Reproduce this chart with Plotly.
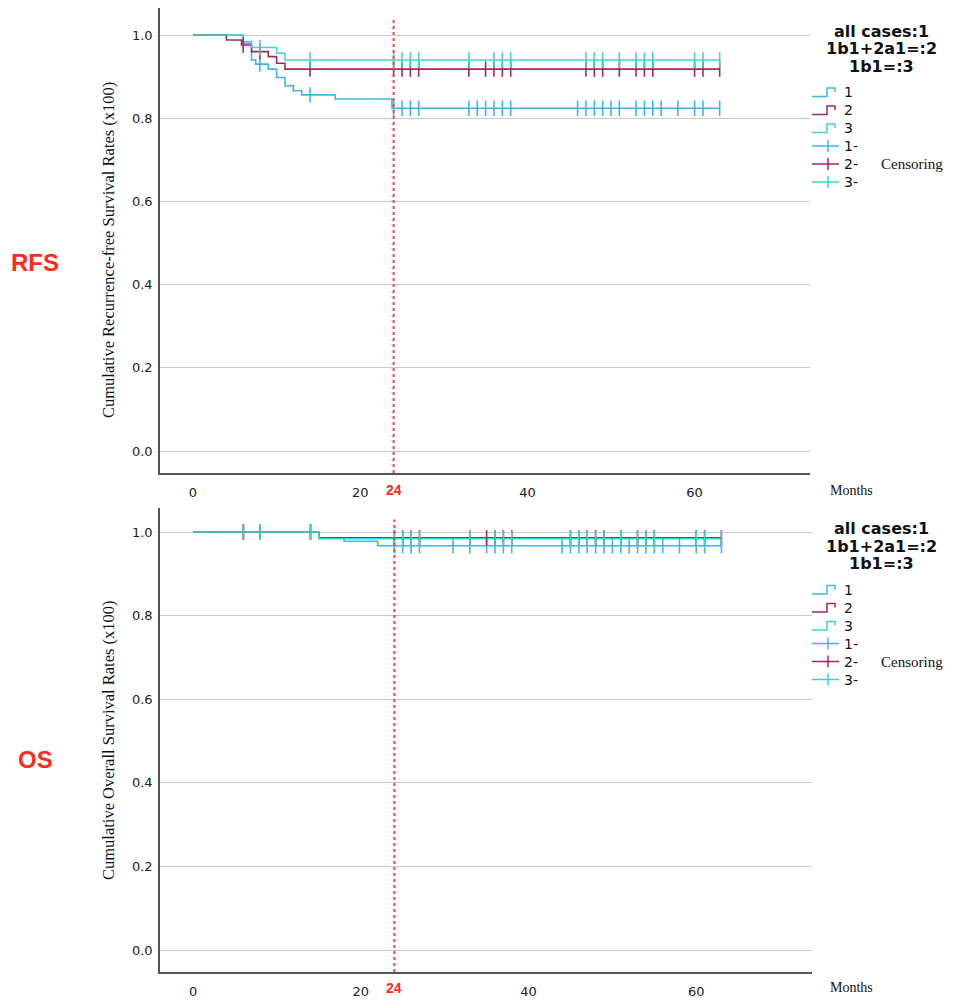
import plotly.graph_objects as go

# ---------------- data (months, survival) ----------------
groups = ["1", "2", "3"]
colors = ["#3DB5F5", "#A32A5C", "#3FD3CD"]

# RFS
rfs1_event_t = [6, 7, 7.5, 9, 10, 11, 12, 13, 17, 23.8]
rfs1_event_s = [0.980, 0.940, 0.930, 0.918, 0.898, 0.878, 0.866, 0.856, 0.846, 0.824]
rfs1_cens_t = [8, 14, 24, 25, 26, 27, 33, 34, 35, 36, 37, 38, 46, 47, 48, 49, 50, 51,
               53, 54, 55, 56, 58, 60, 61, 63]

rfs2_event_t = [4, 5.8, 7, 9, 10, 11]
rfs2_event_s = [0.988, 0.976, 0.960, 0.948, 0.932, 0.918]
rfs2_cens_t = [6, 8, 14, 24, 25, 26, 27, 33, 35, 36, 37, 38, 47, 48, 49, 51, 53, 54, 55,
               60, 61, 63]

rfs3_event_t = [6, 7, 10, 11]
rfs3_event_s = [0.984, 0.970, 0.956, 0.940]
rfs3_cens_t = [8, 14, 24, 25, 26, 27, 33, 36, 37, 38, 47, 48, 49, 51, 53, 54, 55, 60, 61, 63]

# OS
os1_event_t = [15, 18, 22]
os1_event_s = [0.986, 0.978, 0.967]
os1_cens_t = [6, 8, 14, 24, 25, 26, 27, 31, 33, 35, 36, 37, 38, 44, 45, 46, 47, 48, 49, 50,
              51, 52, 53, 54, 55, 56, 58, 60, 61, 63]

os2_event_t = [15]
os2_event_s = [0.986]
os2_cens_t = [6, 8, 14, 24, 25, 26, 27, 33, 35, 36, 37, 38, 45, 46, 47, 48, 49, 51, 53, 54,
              55, 60, 61, 63]

os3_event_t = [15]
os3_event_s = [0.984]
os3_cens_t = [6, 8, 14, 24, 25, 26, 27, 33, 36, 37, 38, 45, 46, 47, 48, 49, 51, 53, 54, 55,
              60, 61, 63]

follow_end = 63
cutoff_month = 24
x_ticks = [0, 20, 40, 60]
y_ticks = [0.0, 0.2, 0.4, 0.6, 0.8, 1.0]
y_ticktext = ["0.0", "0.2", "0.4", "0.6", "0.8", "1.0"]

legend_title = ["all cases:1", "1b1+2a1=:2", "1b1=:3"]
legend_labels = ["1", "2", "3", "1-", "2-", "3-"]

# ---------------- helpers ----------------
W, H = 953, 1000


def px(x):
    return x / W


def py(y):
    return 1 - y / H


def surv_at(t, ev_t, ev_s):
    s = 1.0
    for et, es in zip(ev_t, ev_s):
        if et <= t:
            s = es
    return s


fig = go.Figure()

panels = [
    ("x", "y", [(rfs1_event_t, rfs1_event_s, rfs1_cens_t),
                (rfs2_event_t, rfs2_event_s, rfs2_cens_t),
                (rfs3_event_t, rfs3_event_s, rfs3_cens_t)]),
    ("x2", "y2", [(os1_event_t, os1_event_s, os1_cens_t),
                  (os2_event_t, os2_event_s, os2_cens_t),
                  (os3_event_t, os3_event_s, os3_cens_t)]),
]

for xa, ya, series in panels:
    for gi, (et, es, ct) in enumerate(series):
        xs = [0] + list(et) + [follow_end]
        ys = [1.0] + list(es) + [es[-1]]
        fig.add_trace(go.Scatter(x=xs, y=ys, mode="lines", line=dict(color=colors[gi], width=1.6, shape="hv"),
                                 xaxis=xa, yaxis=ya, showlegend=False, hoverinfo="skip"))
    for gi, (et, es, ct) in enumerate(series):
        fig.add_trace(go.Scatter(x=ct, y=[surv_at(t, et, es) for t in ct], mode="markers",
                                 marker=dict(symbol="line-ns", size=11,
                                             line=dict(color=colors[gi], width=1.6)),
                                 xaxis=xa, yaxis=ya, showlegend=False, hoverinfo="skip"))

m_per_px = 8.36
x_range = [(160 - 193) / m_per_px, (810 - 193) / m_per_px]

axis_common_x = dict(range=x_range, tickvals=x_ticks, showgrid=False, zeroline=False,
                     showline=True, linecolor="#555555", linewidth=1.5, ticks="",
                     tickfont=dict(family="DejaVu Sans", size=13, color="#222222"),
                     ticklabelstandoff=7)
axis_common_y = dict(tickvals=y_ticks, ticktext=y_ticktext, showgrid=True, gridcolor="#C8C8C8",
                     gridwidth=1, zeroline=False, showline=True, linecolor="#555555",
                     linewidth=1.5, ticks="",
                     tickfont=dict(family="DejaVu Sans", size=13, color="#222222"),
                     ticklabelstandoff=3)

fig.update_layout(
    width=W, height=H,
    margin=dict(l=0, r=0, t=0, b=0),
    paper_bgcolor="white", plot_bgcolor="white",
    xaxis=dict(domain=[px(160), px(810)], anchor="y", **axis_common_x),
    yaxis=dict(domain=[py(473), py(8)], anchor="x",
               range=[-22 / 416, 1 + 27 / 416], **axis_common_y),
    xaxis2=dict(domain=[px(160), px(812)], anchor="y2", **axis_common_x),
    yaxis2=dict(domain=[py(972), py(508)], anchor="x2",
                range=[-22 / 418, 1 + 24 / 418], **axis_common_y),
)

# cutoff line
for xa, ya in [("x", "y"), ("x2", "y2")]:
    fig.add_shape(type="line", xref=xa, yref=ya + " domain", x0=cutoff_month, x1=cutoff_month,
                  y0=0, y1=0.975, line=dict(color="#F0473E", width=2, dash="dot"))

annotations = []


def text(x, y, s, size, color="#111111", family="DejaVu Sans", bold=False, xanchor="center",
         angle=0):
    annotations.append(dict(x=px(x), y=py(y), xref="paper", yref="paper", text=(f"<b>{s}</b>" if bold else s),
                            showarrow=False, xanchor=xanchor, yanchor="middle", textangle=angle,
                            font=dict(size=size, color=color, family=family)))


# per-panel decorations
for off, ytitle, side in [(0, "Cumulative Recurrence-free Survival Rates (x100)", "RFS"),
                          (497.5, "Cumulative Overall Survival Rates (x100)", "OS")]:
    # side label
    text(35, 262 + off, side, 24, color="#FF2A1A", family="Liberation Sans", bold=True)
    # y title
    text(108, (250 if off == 0 else 740), ytitle, 16.5, color="#111111", family="Liberation Serif",
         angle=-90)
    # months
    text(828, 490 + off, "Months", 14, color="#111111", family="Liberation Serif", xanchor="left")
    # red 24 label
    xa = "x" if off == 0 else "x2"
    annotations.append(dict(x=cutoff_month, y=py(490 + off), xref=xa, yref="paper",
                            text="<b>24</b>", showarrow=False, xanchor="center", yanchor="middle",
                            font=dict(size=14, color="#FF2A1A", family="Liberation Sans Narrow, Liberation Sans")))
    # legend title
    for i, line in enumerate(legend_title):
        text(881, 31 + off + 17.7 * i, line, 16, color="#111111", family="DejaVu Sans", bold=True)
    # legend entries
    for i, lab in enumerate(legend_labels):
        yc = 92 + 18 * i + off
        c = colors[i % 3]
        if i < 3:
            path = (f"M {px(812)},{py(yc + 4.5)} L {px(827)},{py(yc + 4.5)} L {px(827)},{py(yc - 4)} "
                    f"L {px(835)},{py(yc - 4)} L {px(835)},{py(yc)}")
            fig.add_shape(type="path", xref="paper", yref="paper", path=path,
                          line=dict(color=c, width=1.5))
        else:
            fig.add_shape(type="line", xref="paper", yref="paper", x0=px(812), x1=px(839),
                          y0=py(yc), y1=py(yc), line=dict(color=c, width=1.5))
            fig.add_shape(type="line", xref="paper", yref="paper", x0=px(828), x1=px(828),
                          y0=py(yc - 6), y1=py(yc + 6), line=dict(color=c, width=1.5))
        text(842, yc, lab, 14, color="#111111", family="DejaVu Sans", xanchor="left")
    text(912, 164 + off, "Censoring", 15, color="#111111", family="Liberation Serif")

fig.update_layout(annotations=annotations)

fig.write_html("out.html", config={"displayModeBar": False},
               post_script="document.body.style.margin='0';document.body.style.overflow='hidden';")
